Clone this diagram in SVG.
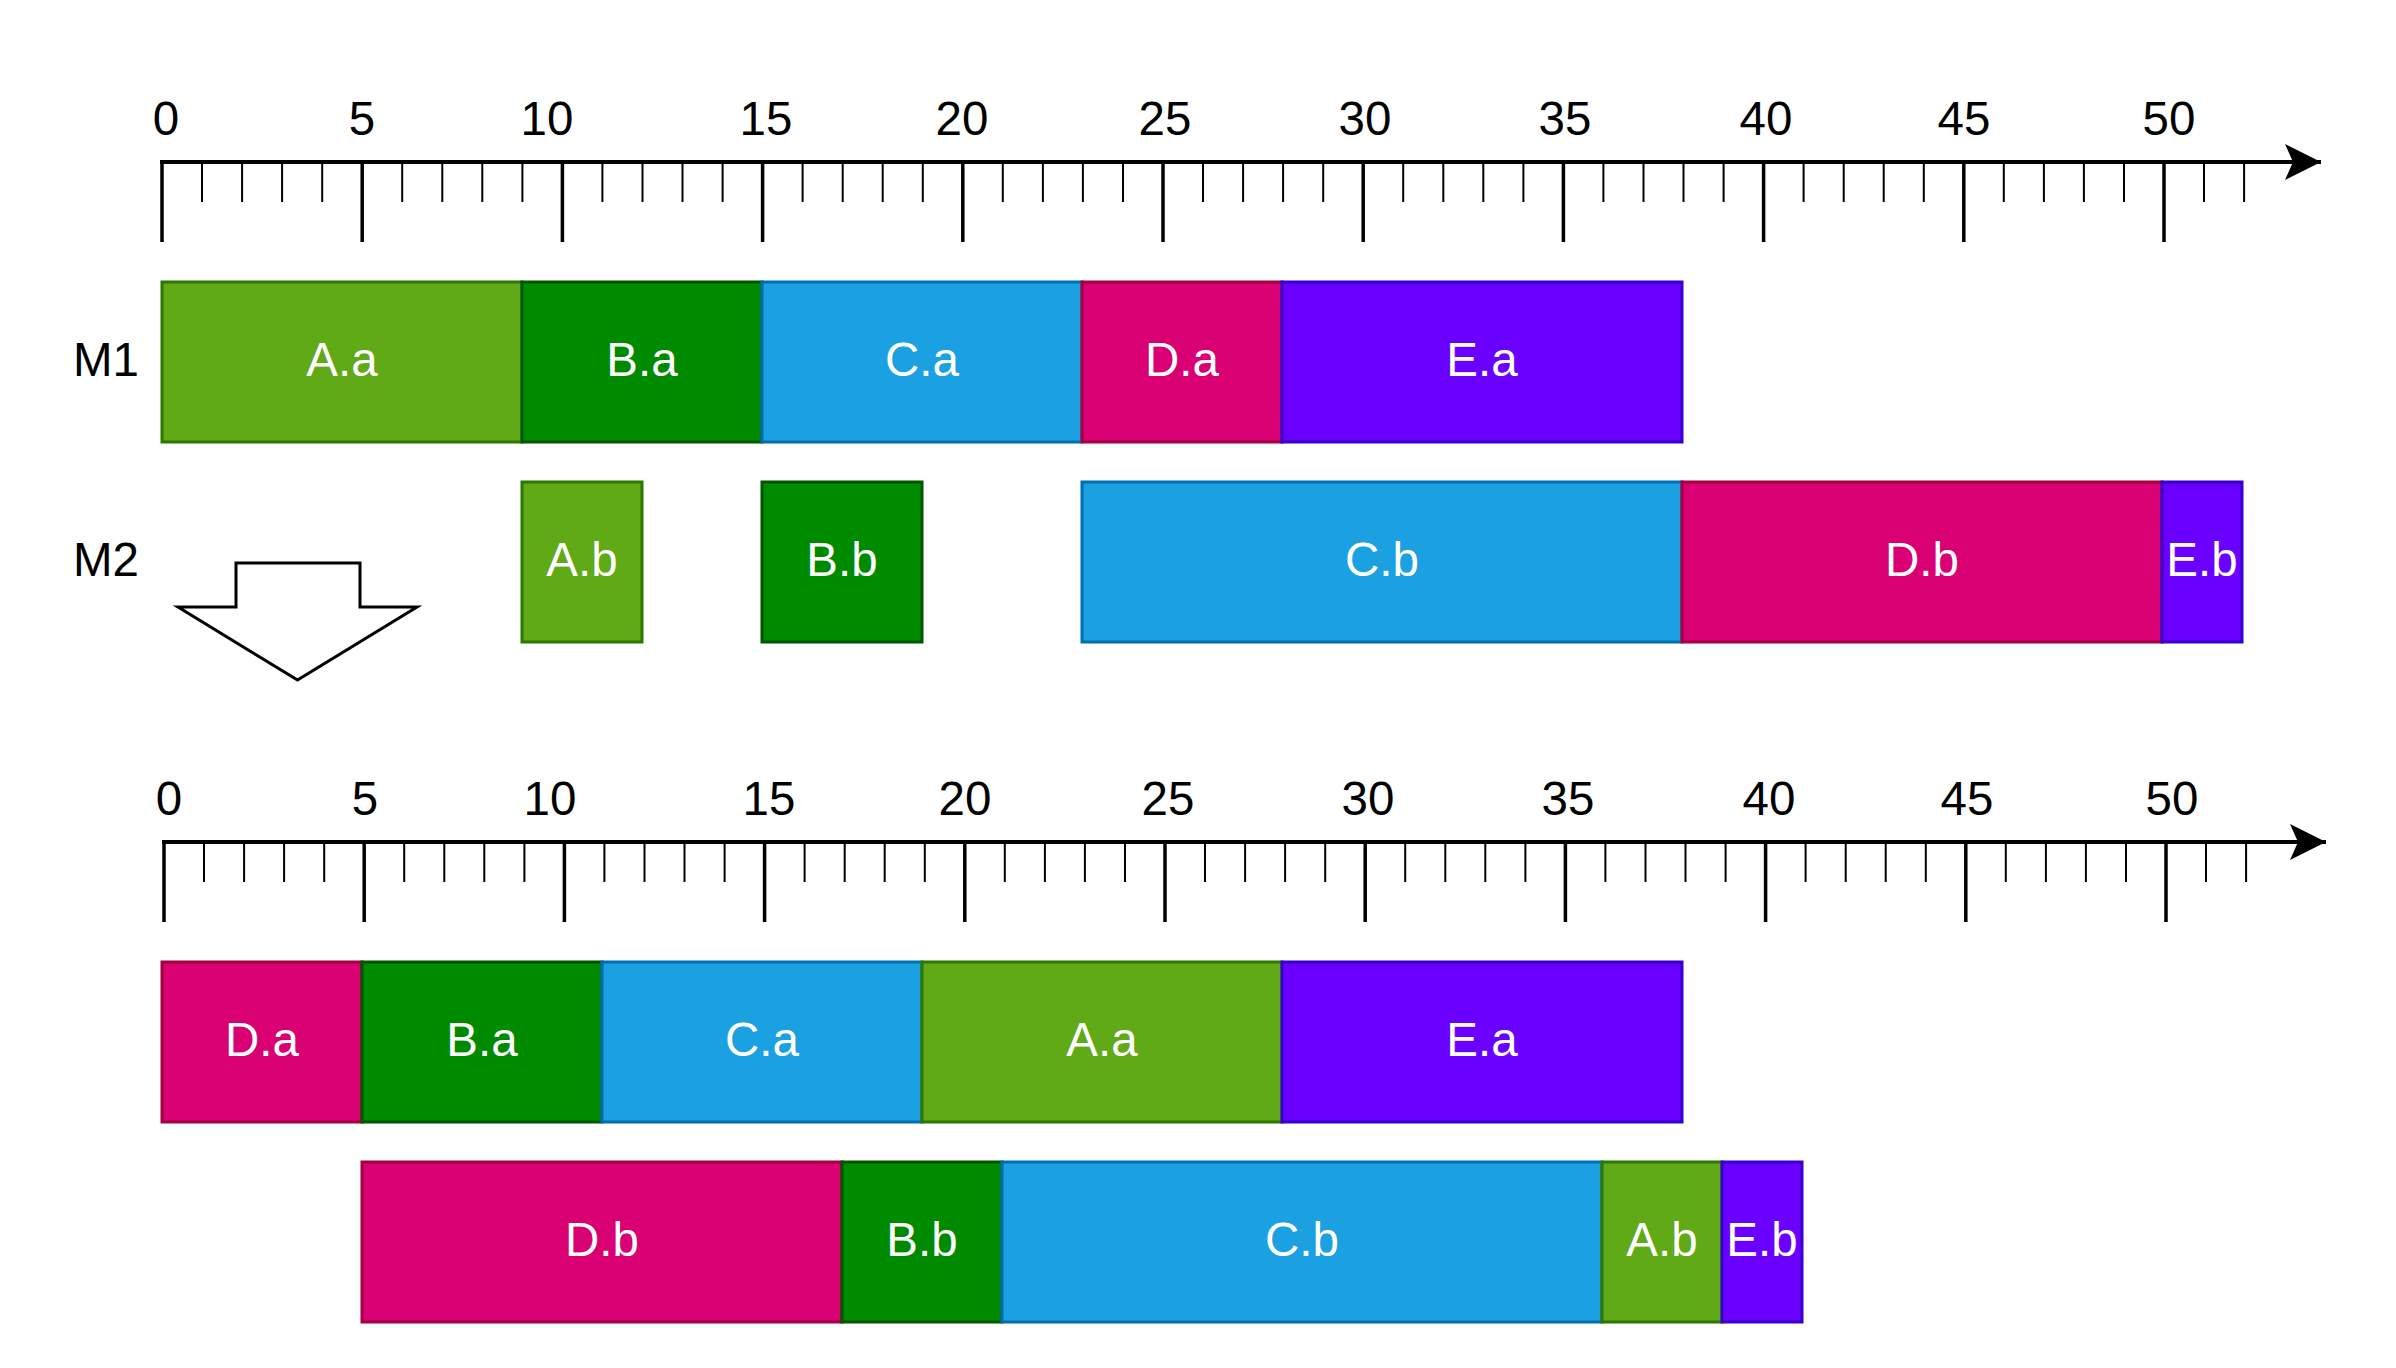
<svg xmlns="http://www.w3.org/2000/svg" xmlns:xlink="http://www.w3.org/1999/xlink" width="2396" height="1368" viewBox="0 0 2396 1368">
<style>
text{font-family:"Liberation Sans",Arial,Helvetica,sans-serif;font-size:47.5px;text-anchor:middle}
.axtxt{fill:#000}
.bx{fill:#fff}
.axis{stroke:#000;stroke-width:4;fill:none}
.minor{stroke:#000;stroke-width:2;fill:none}
.major{stroke:#000;stroke-width:3.5;fill:none}
.A{fill:#60a917;stroke:#2d7600;stroke-width:3}
.B{fill:#008a00;stroke:#005700;stroke-width:3}
.C{fill:#1ba1e2;stroke:#006eaf;stroke-width:3}
.D{fill:#d80073;stroke:#a50040;stroke-width:3}
.E{fill:#6a00ff;stroke:#3700cc;stroke-width:3}
</style>
<defs>
<marker id="arr" markerUnits="userSpaceOnUse" markerWidth="38" markerHeight="38" viewBox="0 0 38 38" refX="36" refY="19" orient="auto">
<path d="M0,1 L36,19 L0,37 L8,19 Z" fill="#000"/>
</marker>
<g id="ticks">
<path class="minor" d="M202,162V202M242.1,162V202M282.1,162V202M322.2,162V202M402.2,162V202M442.3,162V202M482.3,162V202M522.4,162V202M602.4,162V202M642.5,162V202M682.5,162V202M722.6,162V202M802.6,162V202M842.7,162V202M882.7,162V202M922.8,162V202M1002.8,162V202M1042.9,162V202M1082.9,162V202M1123,162V202M1203,162V202M1243.1,162V202M1283.1,162V202M1323.2,162V202M1403.2,162V202M1443.3,162V202M1483.3,162V202M1523.4,162V202M1603.4,162V202M1643.5,162V202M1683.5,162V202M1723.6,162V202M1803.6,162V202M1843.7,162V202M1883.7,162V202M1923.8,162V202M2003.8,162V202M2043.9,162V202M2083.9,162V202M2124,162V202M2204,162V202M2244.1,162V202"/>
<path class="major" d="M162,160V242M362.2,162V242M562.4,162V242M762.6,162V242M962.8,162V242M1163,162V242M1363.2,162V242M1563.4,162V242M1763.6,162V242M1963.8,162V242M2164,162V242"/>
</g>
</defs>

<g id="connectors">
<path id="axis-top-line" class="axis" d="M160,162H2321" marker-end="url(#arr)"/>
<path id="axis-bottom-line" class="axis" d="M162,842H2326" marker-end="url(#arr)"/>
</g>

<g id="axis-top">
<use xlink:href="#ticks" href="#ticks"/>
<text class="axtxt" x="166" y="135">0</text>
<text class="axtxt" x="362" y="135">5</text>
<text class="axtxt" x="547" y="135">10</text>
<text class="axtxt" x="766" y="135">15</text>
<text class="axtxt" x="962" y="135">20</text>
<text class="axtxt" x="1165" y="135">25</text>
<text class="axtxt" x="1365" y="135">30</text>
<text class="axtxt" x="1565" y="135">35</text>
<text class="axtxt" x="1766" y="135">40</text>
<text class="axtxt" x="1964" y="135">45</text>
<text class="axtxt" x="2169" y="135">50</text>
</g>

<g id="axis-bottom">
<use xlink:href="#ticks" href="#ticks" transform="translate(2,680)"/>
<text class="axtxt" x="169" y="815">0</text>
<text class="axtxt" x="365" y="815">5</text>
<text class="axtxt" x="550" y="815">10</text>
<text class="axtxt" x="769" y="815">15</text>
<text class="axtxt" x="965" y="815">20</text>
<text class="axtxt" x="1168" y="815">25</text>
<text class="axtxt" x="1368" y="815">30</text>
<text class="axtxt" x="1568" y="815">35</text>
<text class="axtxt" x="1769" y="815">40</text>
<text class="axtxt" x="1967" y="815">45</text>
<text class="axtxt" x="2172" y="815">50</text>
</g>

<g id="label-M1"><text class="axtxt" x="106" y="376">M1</text></g>
<g id="label-M2"><text class="axtxt" x="106" y="576">M2</text></g>

<g id="down-arrow">
<polygon points="236,563 360,563 360,607 417,607 297.5,680 178,607 236,607" fill="#fff" stroke="#000" stroke-width="3"/>
</g>

<!-- Top schedule, M1 -->
<g id="m1-Aa"><rect class="A" x="162" y="282" width="360" height="160"/><text class="bx" x="342" y="376">A.a</text></g>
<g id="m1-Ba"><rect class="B" x="522" y="282" width="240" height="160"/><text class="bx" x="642" y="376">B.a</text></g>
<g id="m1-Ca"><rect class="C" x="762" y="282" width="320" height="160"/><text class="bx" x="922" y="376">C.a</text></g>
<g id="m1-Da"><rect class="D" x="1082" y="282" width="200" height="160"/><text class="bx" x="1182" y="376">D.a</text></g>
<g id="m1-Ea"><rect class="E" x="1282" y="282" width="400" height="160"/><text class="bx" x="1482" y="376">E.a</text></g>

<!-- Top schedule, M2 -->
<g id="m2-Ab"><rect class="A" x="522" y="482" width="120" height="160"/><text class="bx" x="582" y="576">A.b</text></g>
<g id="m2-Bb"><rect class="B" x="762" y="482" width="160" height="160"/><text class="bx" x="842" y="576">B.b</text></g>
<g id="m2-Cb"><rect class="C" x="1082" y="482" width="600" height="160"/><text class="bx" x="1382" y="576">C.b</text></g>
<g id="m2-Db"><rect class="D" x="1682" y="482" width="480" height="160"/><text class="bx" x="1922" y="576">D.b</text></g>
<g id="m2-Eb"><rect class="E" x="2162" y="482" width="80" height="160"/><text class="bx" x="2202" y="576">E.b</text></g>

<!-- Bottom schedule, row 1 -->
<g id="r1-Da"><rect class="D" x="162" y="962" width="200" height="160"/><text class="bx" x="262" y="1056">D.a</text></g>
<g id="r1-Ba"><rect class="B" x="362" y="962" width="240" height="160"/><text class="bx" x="482" y="1056">B.a</text></g>
<g id="r1-Ca"><rect class="C" x="602" y="962" width="320" height="160"/><text class="bx" x="762" y="1056">C.a</text></g>
<g id="r1-Aa"><rect class="A" x="922" y="962" width="360" height="160"/><text class="bx" x="1102" y="1056">A.a</text></g>
<g id="r1-Ea"><rect class="E" x="1282" y="962" width="400" height="160"/><text class="bx" x="1482" y="1056">E.a</text></g>

<!-- Bottom schedule, row 2 -->
<g id="r2-Db"><rect class="D" x="362" y="1162" width="480" height="160"/><text class="bx" x="602" y="1256">D.b</text></g>
<g id="r2-Bb"><rect class="B" x="842" y="1162" width="160" height="160"/><text class="bx" x="922" y="1256">B.b</text></g>
<g id="r2-Cb"><rect class="C" x="1002" y="1162" width="600" height="160"/><text class="bx" x="1302" y="1256">C.b</text></g>
<g id="r2-Ab"><rect class="A" x="1602" y="1162" width="120" height="160"/><text class="bx" x="1662" y="1256">A.b</text></g>
<g id="r2-Eb"><rect class="E" x="1722" y="1162" width="80" height="160"/><text class="bx" x="1762" y="1256">E.b</text></g>
</svg>
